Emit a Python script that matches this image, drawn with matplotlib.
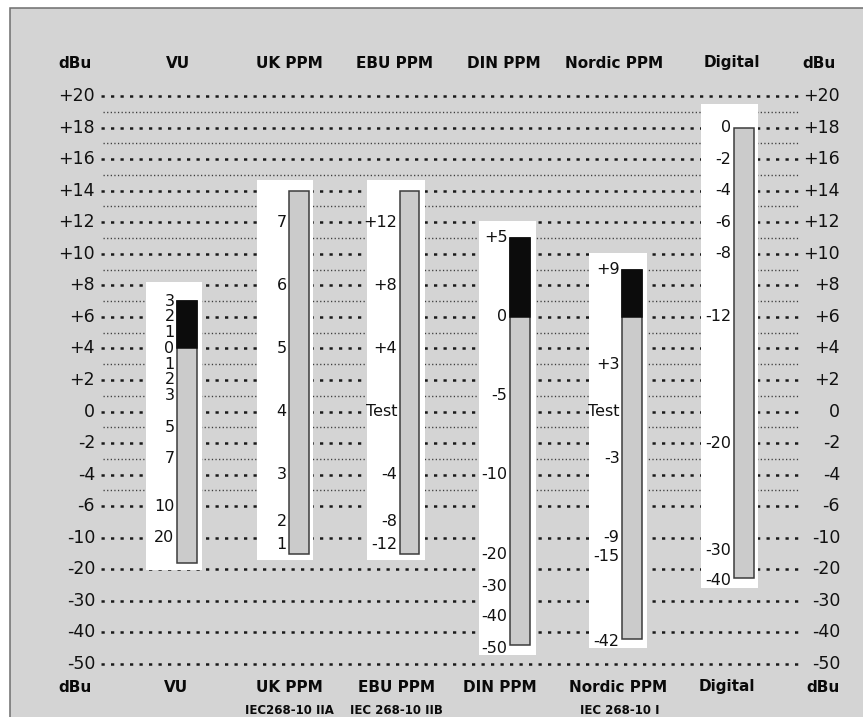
import numpy as np
import matplotlib
matplotlib.use("Agg")
import matplotlib.pyplot as plt
from matplotlib.patches import Rectangle

# ---- reference dBu scale (rows are evenly spaced on the page) ----
dbu_levels = [20, 18, 16, 14, 12, 10, 8, 6, 4, 2, 0, -2, -4, -6, -10, -20, -30, -40, -50]
dbu_labels = ["+20", "+18", "+16", "+14", "+12", "+10", "+8", "+6", "+4", "+2",
              "0", "-2", "-4", "-6", "-10", "-20", "-30", "-40", "-50"]
minor_levels = [19, 17, 15, 13, 11, 9, 7, 5, 3, 1, -1, -3, -5]

# ---- meters ----
meters = ["VU", "UK PPM", "EBU PPM", "DIN PPM", "Nordic PPM", "Digital"]
standards = ["", "IEC268-10 IIA", "IEC 268-10 IIB", "", "IEC 268-10 I", ""]

# bar extent of each meter, expressed in dBu
bar_top = [7, 14, 14, 11, 9, 18]
bar_bottom = [-18, -15, -15, -44, -42, -22.6]
# lower edge of the black (over-level) zone, None where there is none
black_floor = [4, None, None, 6, 6, None]

# meter scale markings and the dBu level each one sits at
vu_marks = ["3", "2", "1", "0", "1", "2", "3", "5", "7", "10", "20"]
vu_pos = [7, 6, 5, 4, 3, 2, 1, -1, -3, -6, -10]
uk_marks = ["7", "6", "5", "4", "3", "2", "1"]
uk_pos = [12, 8, 4, 0, -4, -8, -12]
ebu_marks = ["+12", "+8", "+4", "Test", "-4", "-8", "-12"]
ebu_pos = [12, 8, 4, 0, -4, -8, -12]
din_marks = ["+5", "0", "-5", "-10", "-20", "-30", "-40", "-50"]
din_pos = [11, 6, 1, -4, -15.4, -25.3, -35, -45]
nordic_marks = ["+9", "+3", "Test", "-3", "-9", "-15", "-42"]
nordic_pos = [9, 3, 0, -3, -10, -16, -43]
digital_marks = ["0", "-2", "-4", "-6", "-8", "-12", "-20", "-30", "-40"]
digital_pos = [18, 16, 14, 12, 10, 6, -2, -14, -23.4]

meter_marks = [vu_marks, uk_marks, ebu_marks, din_marks, nordic_marks, digital_marks]
meter_pos = [vu_pos, uk_pos, ebu_pos, din_pos, nordic_pos, digital_pos]

# ---- layout (page units: pixels of an 863 x 717 sheet) ----
W, H = 863, 717
ROW0_Y, ROW_STEP = 96.0, (664.0 - 96.0) / 18
panel_left = [146, 257, 367, 479, 589, 701]
panel_right = [202, 313, 425, 536, 647, 758]
panel_top = [8.2, 14.7, 14.7, 12.1, 10.05, 19.5]
panel_bottom = [-20.2, -17.0, -17.0, -47.1, -44.9, -25.9]
bar_left = [177, 289, 399.5, 510, 622, 734]
bar_w = 19.5
header_top_x = [177.5, 289.5, 394, 504, 614.5, 731.5]
header_bot_x = [176, 289.5, 396, 500, 618, 727]
standard_x = [0, 289, 396, 0, 620, 0]

# piecewise-linear dBu <-> page-row mapping, extended past both ends
_xp = np.array([-150.0] + dbu_levels[::-1] + [40.0])
_rows = np.array([28.0] + list(range(18, -1, -1)) + [-10.0])
_fp = -_rows


def fwd(v):
    return np.interp(v, _xp, _fp)


def inv(v):
    return np.interp(v, _fp, _xp)


fig = plt.figure(figsize=(W / 100, H / 100), dpi=100, facecolor="white")
ax = fig.add_axes([0, 0, 1, 1])
ax.set_yscale("function", functions=(fwd, inv))
ax.set_xlim(0, W)
row_top = -ROW0_Y / ROW_STEP
row_bot = (H - ROW0_Y) / ROW_STEP
ax.set_ylim(inv(-row_bot), inv(-row_top))
ax.axis("off")

FONT = "DejaVu Sans"


def fx(x):
    return x / W


def fy(y):
    return 1 - y / H


# grey sheet with a thin frame
ax.add_patch(Rectangle((fx(9.5), -0.05), 1.1, fy(8) + 0.05, transform=ax.transAxes,
                       facecolor="#d4d4d4", edgecolor="#6e6e6e", lw=1.1, zorder=0))

# dotted reference lines
for lev in dbu_levels:
    ax.plot([101, 798], [lev, lev], color="#1a1a1a", lw=1.8,
            linestyle=(0, (1.3, 2.5)), dash_capstyle="butt", zorder=1)
for lev in minor_levels:
    ax.plot([103, 798], [lev, lev], color="#3c3c3c", lw=1.0,
            linestyle=(0, (0.9, 1.7)), dash_capstyle="butt", zorder=1)

# dBu scale on both sides
for lev, lab in zip(dbu_levels, dbu_labels):
    ax.text(95, lev, lab, ha="right", va="center", fontsize=12.5, family=FONT,
            color="#111111", zorder=5)
    ax.text(840, lev, lab, ha="right", va="center", fontsize=12.5, family=FONT,
            color="#111111", zorder=5)

# white panels, bars, black zones and scale marks
for i in range(len(meters)):
    pl, pr = panel_left[i], panel_right[i]
    ax.bar((pl + pr) / 2, panel_top[i] - panel_bottom[i], bottom=panel_bottom[i],
           width=pr - pl, color="white", edgecolor="none", zorder=2)
    bx = bar_left[i] + bar_w / 2
    ax.bar(bx, bar_top[i] - bar_bottom[i], bottom=bar_bottom[i], width=bar_w,
           color="#cbcbcb", edgecolor="#3c3c3c", lw=1.1, zorder=3)
    if black_floor[i] is not None:
        ax.bar(bx, bar_top[i] - black_floor[i], bottom=black_floor[i], width=bar_w,
               color="#0c0c0c", edgecolor="#0c0c0c", lw=1.1, zorder=4)
    for mark, pos in zip(meter_marks[i], meter_pos[i]):
        ax.text(bar_left[i] - 2.5, pos, mark, ha="right", va="center",
                fontsize=11.5, family=FONT, color="#111111", zorder=5)

# column headings, top and bottom
for name, xt, xb in zip(meters, header_top_x, header_bot_x):
    fig.text(fx(xt), fy(63), name, ha="center", va="center", fontsize=11,
             fontweight="bold", family=FONT, color="#0a0a0a")
    fig.text(fx(xb), fy(687), name, ha="center", va="center", fontsize=11,
             fontweight="bold", family=FONT, color="#0a0a0a")
for side_x in (75, 819):
    fig.text(fx(side_x), fy(63), "dBu", ha="center", va="center", fontsize=11,
             fontweight="bold", family=FONT, color="#0a0a0a")
for side_x in (75, 823):
    fig.text(fx(side_x), fy(687), "dBu", ha="center", va="center", fontsize=11,
             fontweight="bold", family=FONT, color="#0a0a0a")
for std, sx in zip(standards, standard_x):
    if std:
        fig.text(fx(sx), fy(710), std, ha="center", va="center", fontsize=8.5,
                 fontweight="bold", family=FONT, color="#0a0a0a")

fig.savefig("out.png", dpi=100, facecolor="white")
